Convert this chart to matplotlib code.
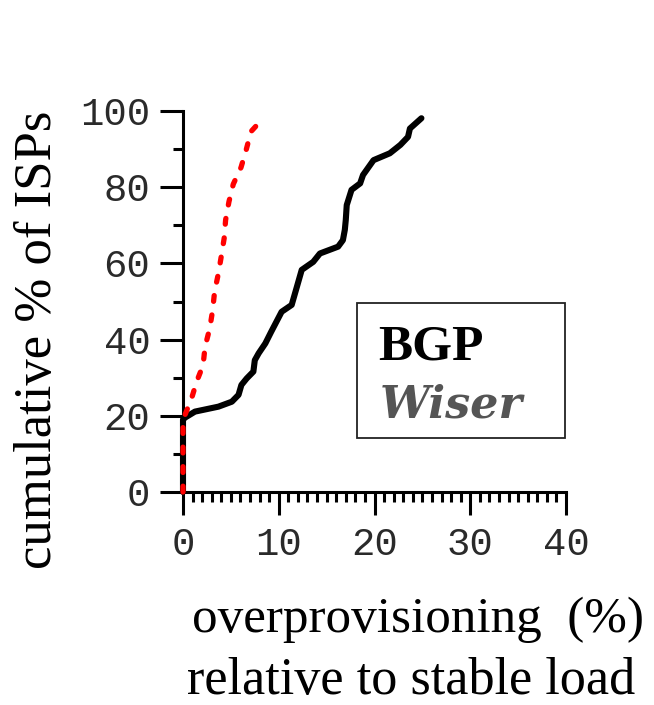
import matplotlib
matplotlib.use("Agg")
import matplotlib.pyplot as plt
from matplotlib.patches import Rectangle
from matplotlib.ticker import MultipleLocator

# Data
bgp_x = [0, 0, 0.2, 1.25, 3.7, 5.1, 5.8, 6.1, 6.65, 7.35, 7.5, 7.9, 8.6, 9.2,
         10.3, 11.35, 11.9, 12.4, 13.6, 14.3, 16.2, 16.7, 16.9, 17.0, 17.1,
         17.6, 18.5, 18.8, 19.9, 21.6, 22.7, 23.5, 23.7, 24.9]
bgp_y = [0, 19, 19.5, 21.1, 22.4, 23.7, 25.5, 28.1, 29.8, 31.6, 34.6, 36.4,
         39, 42, 47.3, 49.1, 53.9, 58.3, 60.4, 62.6, 64.4, 66.1, 68.8, 71.4,
         75.3, 79.3, 81, 83.2, 87.1, 88.9, 91.1, 93.2, 95.4, 98.1]

wiser_x = [0, 0, 0.2, 0.9, 1.43, 2.1, 2.3, 2.8, 3.1, 3.3, 3.7, 4.0, 4.3, 4.45,
           4.8, 5.25, 6.06, 6.6, 7.1, 8.3]
wiser_y = [0, 19, 20.2, 24.6, 29, 33.3, 38.1, 43, 47.8, 52.6, 57.4, 61.9,
           66.6, 71.4, 76.2, 80.8, 85.2, 89.8, 94.6, 97.9]

x_ticks = [0, 10, 20, 30, 40]
y_ticks = [0, 20, 40, 60, 80, 100]

W, H = 654, 705
fig = plt.figure(figsize=(W / 100, H / 100), dpi=100)

def fx(px):
    return px / W

def fy(py):
    return 1 - py / H

ax = fig.add_axes([fx(183), fy(492), fx(566) - fx(183), fy(111) - fy(492)])

ax.plot(bgp_x, bgp_y, color="black", lw=4.4, solid_joinstyle="round",
        solid_capstyle="round", clip_on=False, zorder=3)
ax.plot(wiser_x, wiser_y, color="#ff0000", lw=3.8, linestyle=(0, (1.1, 2.6)),
        dash_capstyle="round", clip_on=False, zorder=4)

ax.set_xlim(0, 40)
ax.set_ylim(0, 100)
ax.set_xticks(x_ticks)
ax.set_yticks(y_ticks)
ax.xaxis.set_minor_locator(MultipleLocator(1))
ax.yaxis.set_minor_locator(MultipleLocator(10))

for s in ["top", "right"]:
    ax.spines[s].set_visible(False)
for s in ["left", "bottom"]:
    ax.spines[s].set_linewidth(2.2)

ax.tick_params(which="major", length=16.5, width=2.2, direction="out",
               labelsize=28, color="black")
ax.tick_params(which="minor", length=7.5, width=2.2, direction="out")
ax.tick_params(axis="x", which="major", pad=9)
ax.tick_params(axis="y", which="major", pad=7)
for lab in ax.get_xticklabels() + ax.get_yticklabels():
    lab.set_fontfamily("Liberation Mono")
    lab.set_color("#2a2a2a")

# Axis labels
fig.text(fx(38), fy(340), "cumulative % of ISPs", rotation=90,
         family="Liberation Serif", fontsize=38, ha="center", va="center")
fig.text(fx(418.5), fy(632), "overprovisioning  (%)", family="Liberation Serif",
         fontsize=36.8, ha="center", va="baseline")
fig.text(fx(411), fy(694), "relative to stable load", family="Liberation Serif",
         fontsize=37.6, ha="center", va="baseline")

# Legend box with text
fig.patches.append(Rectangle((fx(357), fy(438)), fx(565) - fx(357),
                             fy(303) - fy(438), transform=fig.transFigure,
                             fill=False, edgecolor="#222222", lw=1.3))
fig.text(fx(378), fy(360), "BGP", family="Liberation Serif", weight="bold",
         fontsize=37, color="black", ha="left", va="baseline")
fig.text(fx(380), fy(418), "Wiser", family="DejaVu Serif", weight="bold",
         style="italic", fontsize=32, color="#555555", ha="left", va="baseline")

fig.savefig("out.png", dpi=100)
